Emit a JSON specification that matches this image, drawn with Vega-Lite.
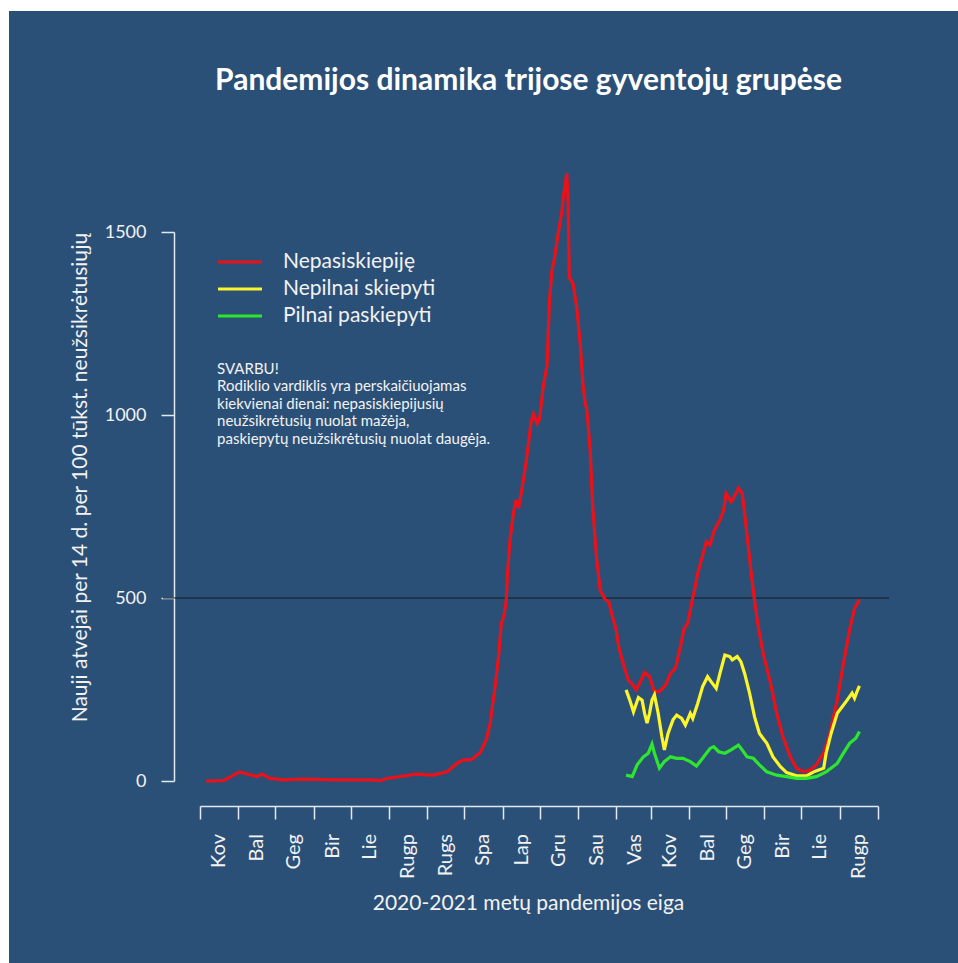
{
  "$schema": "https://vega.github.io/schema/vega-lite/v6.json",
  "width": 949,
  "height": 952,
  "autosize": {"type": "none"},
  "padding": {"left": 9, "top": 11, "right": 0, "bottom": 0},
  "background": "#ffffff",
  "config": {
    "view": {"fill": "#2b5078", "stroke": null},
    "font": "Lato",
    "axis": {"grid": false, "domainColor": "#e2e8ef", "tickColor": "#e2e8ef", "domainWidth": 1.5, "tickWidth": 1.5, "labelColor": "#f2f2f2", "titleColor": "#f2f2f2", "labelFont": "Lato", "titleFont": "Lato", "titleFontWeight": "normal"}
  },
  "title": {"text": "Pandemijos dinamika trijose gyventojų grupėse", "anchor": "middle", "frame": "group", "offset": 0, "baseline": "bottom", "dy": 115, "dx": 45, "fontSize": 30, "fontWeight": "bold", "color": "#ffffff", "font": "Lato"},
  "layer": [
    {
      "data": {"values": [{"line": "500"}]},
      "mark": {"type": "rule", "stroke": "#101820", "strokeWidth": 1.2},
      "encoding": {
        "x": {"datum": {"year": 2020, "month": 1, "date": 31, "utc": true}, "type": "temporal"},
        "x2": {"datum": {"year": 2021, "month": 9, "date": 10, "utc": true}},
        "y": {"datum": 500, "type": "quantitative"}
      }
    },
    {
      "data": {"values": [
        {"date": "2020-03-06", "group": "Nepasiskiepiję", "value": 0},
        {"date": "2020-03-20", "group": "Nepasiskiepiję", "value": 1},
        {"date": "2020-04-02", "group": "Nepasiskiepiję", "value": 25},
        {"date": "2020-04-16", "group": "Nepasiskiepiję", "value": 12},
        {"date": "2020-04-20", "group": "Nepasiskiepiję", "value": 19},
        {"date": "2020-04-27", "group": "Nepasiskiepiję", "value": 7},
        {"date": "2020-05-07", "group": "Nepasiskiepiję", "value": 3},
        {"date": "2020-05-24", "group": "Nepasiskiepiję", "value": 5},
        {"date": "2020-06-20", "group": "Nepasiskiepiję", "value": 3},
        {"date": "2020-07-17", "group": "Nepasiskiepiję", "value": 3},
        {"date": "2020-07-25", "group": "Nepasiskiepiję", "value": 1},
        {"date": "2020-07-30", "group": "Nepasiskiepiję", "value": 7},
        {"date": "2020-08-23", "group": "Nepasiskiepiję", "value": 19},
        {"date": "2020-09-06", "group": "Nepasiskiepiję", "value": 16},
        {"date": "2020-09-17", "group": "Nepasiskiepiję", "value": 25},
        {"date": "2020-09-25", "group": "Nepasiskiepiję", "value": 48},
        {"date": "2020-09-30", "group": "Nepasiskiepiję", "value": 57},
        {"date": "2020-10-07", "group": "Nepasiskiepiję", "value": 59},
        {"date": "2020-10-14", "group": "Nepasiskiepiję", "value": 78},
        {"date": "2020-10-19", "group": "Nepasiskiepiję", "value": 115},
        {"date": "2020-10-22", "group": "Nepasiskiepiję", "value": 158},
        {"date": "2020-10-24", "group": "Nepasiskiepiję", "value": 210},
        {"date": "2020-10-26", "group": "Nepasiskiepiję", "value": 258},
        {"date": "2020-10-29", "group": "Nepasiskiepiję", "value": 349},
        {"date": "2020-10-31", "group": "Nepasiskiepiję", "value": 431},
        {"date": "2020-11-02", "group": "Nepasiskiepiję", "value": 449},
        {"date": "2020-11-04", "group": "Nepasiskiepiję", "value": 494},
        {"date": "2020-11-05", "group": "Nepasiskiepiję", "value": 567},
        {"date": "2020-11-07", "group": "Nepasiskiepiję", "value": 658},
        {"date": "2020-11-10", "group": "Nepasiskiepiję", "value": 736},
        {"date": "2020-11-12", "group": "Nepasiskiepiję", "value": 768},
        {"date": "2020-11-14", "group": "Nepasiskiepiję", "value": 745},
        {"date": "2020-11-17", "group": "Nepasiskiepiję", "value": 804},
        {"date": "2020-11-20", "group": "Nepasiskiepiję", "value": 870},
        {"date": "2020-11-22", "group": "Nepasiskiepiję", "value": 923},
        {"date": "2020-11-24", "group": "Nepasiskiepiję", "value": 980},
        {"date": "2020-11-26", "group": "Nepasiskiepiję", "value": 1003},
        {"date": "2020-11-29", "group": "Nepasiskiepiję", "value": 977},
        {"date": "2020-12-01", "group": "Nepasiskiepiję", "value": 990},
        {"date": "2020-12-04", "group": "Nepasiskiepiję", "value": 1080},
        {"date": "2020-12-07", "group": "Nepasiskiepiję", "value": 1135},
        {"date": "2020-12-09", "group": "Nepasiskiepiję", "value": 1314},
        {"date": "2020-12-11", "group": "Nepasiskiepiję", "value": 1395},
        {"date": "2020-12-13", "group": "Nepasiskiepiję", "value": 1428},
        {"date": "2020-12-16", "group": "Nepasiskiepiję", "value": 1496},
        {"date": "2020-12-19", "group": "Nepasiskiepiję", "value": 1555},
        {"date": "2020-12-20", "group": "Nepasiskiepiję", "value": 1590},
        {"date": "2020-12-23", "group": "Nepasiskiepiję", "value": 1660},
        {"date": "2020-12-24", "group": "Nepasiskiepiję", "value": 1587},
        {"date": "2020-12-25", "group": "Nepasiskiepiję", "value": 1375},
        {"date": "2020-12-28", "group": "Nepasiskiepiję", "value": 1360},
        {"date": "2020-12-31", "group": "Nepasiskiepiję", "value": 1296},
        {"date": "2021-01-03", "group": "Nepasiskiepiję", "value": 1190},
        {"date": "2021-01-05", "group": "Nepasiskiepiję", "value": 1086},
        {"date": "2021-01-07", "group": "Nepasiskiepiję", "value": 1030},
        {"date": "2021-01-08", "group": "Nepasiskiepiję", "value": 1020},
        {"date": "2021-01-09", "group": "Nepasiskiepiję", "value": 985},
        {"date": "2021-01-11", "group": "Nepasiskiepiję", "value": 900},
        {"date": "2021-01-13", "group": "Nepasiskiepiję", "value": 749},
        {"date": "2021-01-16", "group": "Nepasiskiepiję", "value": 613},
        {"date": "2021-01-19", "group": "Nepasiskiepiję", "value": 522},
        {"date": "2021-01-23", "group": "Nepasiskiepiję", "value": 496},
        {"date": "2021-01-26", "group": "Nepasiskiepiję", "value": 490},
        {"date": "2021-01-29", "group": "Nepasiskiepiję", "value": 449},
        {"date": "2021-02-01", "group": "Nepasiskiepiję", "value": 413},
        {"date": "2021-02-03", "group": "Nepasiskiepiję", "value": 367},
        {"date": "2021-02-07", "group": "Nepasiskiepiję", "value": 317},
        {"date": "2021-02-11", "group": "Nepasiskiepiję", "value": 274},
        {"date": "2021-02-14", "group": "Nepasiskiepiję", "value": 265},
        {"date": "2021-02-17", "group": "Nepasiskiepiję", "value": 249},
        {"date": "2021-02-20", "group": "Nepasiskiepiję", "value": 267},
        {"date": "2021-02-24", "group": "Nepasiskiepiję", "value": 297},
        {"date": "2021-02-28", "group": "Nepasiskiepiję", "value": 285},
        {"date": "2021-03-04", "group": "Nepasiskiepiję", "value": 244},
        {"date": "2021-03-08", "group": "Nepasiskiepiję", "value": 244},
        {"date": "2021-03-13", "group": "Nepasiskiepiję", "value": 262},
        {"date": "2021-03-17", "group": "Nepasiskiepiję", "value": 294},
        {"date": "2021-03-21", "group": "Nepasiskiepiję", "value": 308},
        {"date": "2021-03-25", "group": "Nepasiskiepiję", "value": 367},
        {"date": "2021-03-28", "group": "Nepasiskiepiję", "value": 417},
        {"date": "2021-03-31", "group": "Nepasiskiepiję", "value": 431},
        {"date": "2021-04-03", "group": "Nepasiskiepiję", "value": 485},
        {"date": "2021-04-06", "group": "Nepasiskiepiję", "value": 531},
        {"date": "2021-04-08", "group": "Nepasiskiepiję", "value": 567},
        {"date": "2021-04-11", "group": "Nepasiskiepiję", "value": 604},
        {"date": "2021-04-15", "group": "Nepasiskiepiję", "value": 654},
        {"date": "2021-04-18", "group": "Nepasiskiepiję", "value": 645},
        {"date": "2021-04-21", "group": "Nepasiskiepiję", "value": 681},
        {"date": "2021-04-23", "group": "Nepasiskiepiję", "value": 695},
        {"date": "2021-04-26", "group": "Nepasiskiepiję", "value": 713},
        {"date": "2021-04-29", "group": "Nepasiskiepiję", "value": 740},
        {"date": "2021-05-01", "group": "Nepasiskiepiję", "value": 786},
        {"date": "2021-05-05", "group": "Nepasiskiepiję", "value": 763},
        {"date": "2021-05-07", "group": "Nepasiskiepiję", "value": 772},
        {"date": "2021-05-11", "group": "Nepasiskiepiję", "value": 800},
        {"date": "2021-05-14", "group": "Nepasiskiepiję", "value": 786},
        {"date": "2021-05-16", "group": "Nepasiskiepiję", "value": 731},
        {"date": "2021-05-19", "group": "Nepasiskiepiję", "value": 640},
        {"date": "2021-05-22", "group": "Nepasiskiepiję", "value": 549},
        {"date": "2021-05-24", "group": "Nepasiskiepiję", "value": 494},
        {"date": "2021-05-27", "group": "Nepasiskiepiję", "value": 422},
        {"date": "2021-05-31", "group": "Nepasiskiepiję", "value": 349},
        {"date": "2021-06-06", "group": "Nepasiskiepiję", "value": 267},
        {"date": "2021-06-11", "group": "Nepasiskiepiję", "value": 185},
        {"date": "2021-06-16", "group": "Nepasiskiepiję", "value": 121},
        {"date": "2021-06-22", "group": "Nepasiskiepiję", "value": 66},
        {"date": "2021-06-27", "group": "Nepasiskiepiję", "value": 35},
        {"date": "2021-07-03", "group": "Nepasiskiepiję", "value": 25},
        {"date": "2021-07-08", "group": "Nepasiskiepiję", "value": 30},
        {"date": "2021-07-13", "group": "Nepasiskiepiję", "value": 44},
        {"date": "2021-07-19", "group": "Nepasiskiepiję", "value": 76},
        {"date": "2021-07-24", "group": "Nepasiskiepiję", "value": 130},
        {"date": "2021-07-30", "group": "Nepasiskiepiję", "value": 221},
        {"date": "2021-08-04", "group": "Nepasiskiepiję", "value": 322},
        {"date": "2021-08-09", "group": "Nepasiskiepiję", "value": 413},
        {"date": "2021-08-13", "group": "Nepasiskiepiję", "value": 472},
        {"date": "2021-08-17", "group": "Nepasiskiepiję", "value": 496},
        {"date": "2021-02-09", "group": "Nepilnai skiepyti", "value": 249},
        {"date": "2021-02-12", "group": "Nepilnai skiepyti", "value": 221},
        {"date": "2021-02-15", "group": "Nepilnai skiepyti", "value": 189},
        {"date": "2021-02-19", "group": "Nepilnai skiepyti", "value": 228},
        {"date": "2021-02-22", "group": "Nepilnai skiepyti", "value": 221},
        {"date": "2021-02-24", "group": "Nepilnai skiepyti", "value": 185},
        {"date": "2021-02-26", "group": "Nepilnai skiepyti", "value": 158},
        {"date": "2021-02-28", "group": "Nepilnai skiepyti", "value": 185},
        {"date": "2021-03-02", "group": "Nepilnai skiepyti", "value": 221},
        {"date": "2021-03-04", "group": "Nepilnai skiepyti", "value": 235},
        {"date": "2021-03-07", "group": "Nepilnai skiepyti", "value": 185},
        {"date": "2021-03-10", "group": "Nepilnai skiepyti", "value": 121},
        {"date": "2021-03-12", "group": "Nepilnai skiepyti", "value": 85},
        {"date": "2021-03-15", "group": "Nepilnai skiepyti", "value": 130},
        {"date": "2021-03-19", "group": "Nepilnai skiepyti", "value": 167},
        {"date": "2021-03-22", "group": "Nepilnai skiepyti", "value": 180},
        {"date": "2021-03-26", "group": "Nepilnai skiepyti", "value": 171},
        {"date": "2021-03-29", "group": "Nepilnai skiepyti", "value": 153},
        {"date": "2021-04-02", "group": "Nepilnai skiepyti", "value": 185},
        {"date": "2021-04-04", "group": "Nepilnai skiepyti", "value": 171},
        {"date": "2021-04-08", "group": "Nepilnai skiepyti", "value": 212},
        {"date": "2021-04-12", "group": "Nepilnai skiepyti", "value": 258},
        {"date": "2021-04-16", "group": "Nepilnai skiepyti", "value": 285},
        {"date": "2021-04-19", "group": "Nepilnai skiepyti", "value": 271},
        {"date": "2021-04-23", "group": "Nepilnai skiepyti", "value": 253},
        {"date": "2021-04-26", "group": "Nepilnai skiepyti", "value": 294},
        {"date": "2021-04-30", "group": "Nepilnai skiepyti", "value": 344},
        {"date": "2021-05-04", "group": "Nepilnai skiepyti", "value": 340},
        {"date": "2021-05-06", "group": "Nepilnai skiepyti", "value": 331},
        {"date": "2021-05-10", "group": "Nepilnai skiepyti", "value": 340},
        {"date": "2021-05-13", "group": "Nepilnai skiepyti", "value": 326},
        {"date": "2021-05-16", "group": "Nepilnai skiepyti", "value": 294},
        {"date": "2021-05-20", "group": "Nepilnai skiepyti", "value": 240},
        {"date": "2021-05-24", "group": "Nepilnai skiepyti", "value": 176},
        {"date": "2021-05-28", "group": "Nepilnai skiepyti", "value": 130},
        {"date": "2021-06-03", "group": "Nepilnai skiepyti", "value": 103},
        {"date": "2021-06-08", "group": "Nepilnai skiepyti", "value": 66},
        {"date": "2021-06-14", "group": "Nepilnai skiepyti", "value": 39},
        {"date": "2021-06-19", "group": "Nepilnai skiepyti", "value": 23},
        {"date": "2021-06-27", "group": "Nepilnai skiepyti", "value": 14},
        {"date": "2021-07-05", "group": "Nepilnai skiepyti", "value": 14},
        {"date": "2021-07-11", "group": "Nepilnai skiepyti", "value": 25},
        {"date": "2021-07-15", "group": "Nepilnai skiepyti", "value": 30},
        {"date": "2021-07-19", "group": "Nepilnai skiepyti", "value": 35},
        {"date": "2021-07-21", "group": "Nepilnai skiepyti", "value": 76},
        {"date": "2021-07-25", "group": "Nepilnai skiepyti", "value": 130},
        {"date": "2021-07-30", "group": "Nepilnai skiepyti", "value": 185},
        {"date": "2021-08-03", "group": "Nepilnai skiepyti", "value": 203},
        {"date": "2021-08-07", "group": "Nepilnai skiepyti", "value": 221},
        {"date": "2021-08-11", "group": "Nepilnai skiepyti", "value": 240},
        {"date": "2021-08-13", "group": "Nepilnai skiepyti", "value": 226},
        {"date": "2021-08-15", "group": "Nepilnai skiepyti", "value": 244},
        {"date": "2021-08-17", "group": "Nepilnai skiepyti", "value": 260},
        {"date": "2021-02-09", "group": "Pilnai paskiepyti", "value": 16},
        {"date": "2021-02-14", "group": "Pilnai paskiepyti", "value": 12},
        {"date": "2021-02-18", "group": "Pilnai paskiepyti", "value": 44},
        {"date": "2021-02-23", "group": "Pilnai paskiepyti", "value": 66},
        {"date": "2021-02-27", "group": "Pilnai paskiepyti", "value": 76},
        {"date": "2021-03-02", "group": "Pilnai paskiepyti", "value": 101},
        {"date": "2021-03-04", "group": "Pilnai paskiepyti", "value": 76},
        {"date": "2021-03-08", "group": "Pilnai paskiepyti", "value": 35},
        {"date": "2021-03-12", "group": "Pilnai paskiepyti", "value": 53},
        {"date": "2021-03-17", "group": "Pilnai paskiepyti", "value": 66},
        {"date": "2021-03-22", "group": "Pilnai paskiepyti", "value": 62},
        {"date": "2021-03-27", "group": "Pilnai paskiepyti", "value": 62},
        {"date": "2021-04-02", "group": "Pilnai paskiepyti", "value": 53},
        {"date": "2021-04-07", "group": "Pilnai paskiepyti", "value": 41},
        {"date": "2021-04-12", "group": "Pilnai paskiepyti", "value": 62},
        {"date": "2021-04-18", "group": "Pilnai paskiepyti", "value": 89},
        {"date": "2021-04-21", "group": "Pilnai paskiepyti", "value": 94},
        {"date": "2021-04-25", "group": "Pilnai paskiepyti", "value": 80},
        {"date": "2021-04-30", "group": "Pilnai paskiepyti", "value": 76},
        {"date": "2021-05-05", "group": "Pilnai paskiepyti", "value": 85},
        {"date": "2021-05-11", "group": "Pilnai paskiepyti", "value": 98},
        {"date": "2021-05-14", "group": "Pilnai paskiepyti", "value": 85},
        {"date": "2021-05-18", "group": "Pilnai paskiepyti", "value": 66},
        {"date": "2021-05-23", "group": "Pilnai paskiepyti", "value": 62},
        {"date": "2021-05-28", "group": "Pilnai paskiepyti", "value": 44},
        {"date": "2021-06-03", "group": "Pilnai paskiepyti", "value": 25},
        {"date": "2021-06-11", "group": "Pilnai paskiepyti", "value": 16},
        {"date": "2021-06-19", "group": "Pilnai paskiepyti", "value": 12},
        {"date": "2021-06-27", "group": "Pilnai paskiepyti", "value": 7},
        {"date": "2021-07-05", "group": "Pilnai paskiepyti", "value": 7},
        {"date": "2021-07-13", "group": "Pilnai paskiepyti", "value": 12},
        {"date": "2021-07-21", "group": "Pilnai paskiepyti", "value": 25},
        {"date": "2021-07-30", "group": "Pilnai paskiepyti", "value": 48},
        {"date": "2021-08-04", "group": "Pilnai paskiepyti", "value": 76},
        {"date": "2021-08-09", "group": "Pilnai paskiepyti", "value": 103},
        {"date": "2021-08-14", "group": "Pilnai paskiepyti", "value": 117},
        {"date": "2021-08-17", "group": "Pilnai paskiepyti", "value": 135}
      ]},
      "mark": {"type": "line", "strokeWidth": 3.2, "clip": false},
      "encoding": {
        "x": {"field": "date", "type": "temporal",
          "scale": {"type": "utc", "domain": [{"year": 2020, "month": 3, "date": 1, "utc": true}, {"year": 2021, "month": 9, "date": 1, "utc": true}], "range": [191, 869], "nice": false},
          "axis": {
            "values": [
              {"year": 2020, "month": 3, "date": 1, "utc": true}, {"year": 2020, "month": 4, "date": 1, "utc": true}, {"year": 2020, "month": 5, "date": 1, "utc": true}, {"year": 2020, "month": 6, "date": 1, "utc": true}, {"year": 2020, "month": 7, "date": 1, "utc": true}, {"year": 2020, "month": 8, "date": 1, "utc": true}, {"year": 2020, "month": 9, "date": 1, "utc": true}, {"year": 2020, "month": 10, "date": 1, "utc": true}, {"year": 2020, "month": 11, "date": 1, "utc": true}, {"year": 2020, "month": 12, "date": 1, "utc": true},
              {"year": 2021, "month": 1, "date": 1, "utc": true}, {"year": 2021, "month": 2, "date": 1, "utc": true}, {"year": 2021, "month": 3, "date": 1, "utc": true}, {"year": 2021, "month": 4, "date": 1, "utc": true}, {"year": 2021, "month": 5, "date": 1, "utc": true}, {"year": 2021, "month": 6, "date": 1, "utc": true}, {"year": 2021, "month": 7, "date": 1, "utc": true}, {"year": 2021, "month": 8, "date": 1, "utc": true}, {"year": 2021, "month": 9, "date": 1, "utc": true}
            ],
            "labelExpr": "(utcyear(datum.value) == 2021 && utcmonth(datum.value) == 8) ? '' : ['Sau','Vas','Kov','Bal','Geg','Bir','Lie','Rugp','Rugs','Spa','Lap','Gru'][utcmonth(datum.value)]",
            "offset": -157, "tickSize": 13, "labelPadding": 14.5, "labelAngle": 270, "labelAlign": "right", "labelBaseline": "middle", "labelOffset": 18.5, "labelFontSize": 20, "labelFlush": false, "labelOverlap": false, "labelBound": false,
            "title": "2020-2021 metų pandemijos eiga", "titleFontSize": 21, "titleX": 519, "titleY": 97, "titleAlign": "center", "titleBaseline": "middle", "titleAngle": 0
          }
        },
        "y": {"field": "value", "type": "quantitative",
          "scale": {"domain": [0, 1500], "range": [770, 221], "nice": false, "zero": false},
          "axis": {"values": [0, 500, 1000, 1500], "format": "d", "offset": -165, "tickSize": 13, "labelPadding": 15, "labelFontSize": 18, "labelAngle": 0, "labelBaseline": "middle", "labelAlign": "right", "labelFlush": false, "labelOverlap": false, "labelBound": false,
            "title": "Nauji atvejai per 14 d. per 100 tūkst. neužsikrėtusiųjų", "titleFontSize": 21, "titleX": -94, "titleY": 466, "titleAngle": 270, "titleAlign": "center", "titleBaseline": "middle"}
        },
        "color": {"field": "group", "type": "nominal",
          "scale": {"domain": ["Nepasiskiepiję", "Nepilnai skiepyti", "Pilnai paskiepyti"], "range": ["#ec1118", "#fbf52a", "#2ee62e"]},
          "legend": {"orient": "none", "legendX": 218.5, "legendY": 238.5, "title": null, "symbolType": "M-2,0H2", "symbolSize": 484, "symbolStrokeWidth": 3, "labelFontSize": 21, "labelColor": "#f2f2f2", "labelFont": "Lato", "labelOffset": 30.5, "rowPadding": 4, "padding": 0}
        }
      }
    },
    {
      "data": {"values": [{"note": "SVARBU!"}]},
      "mark": {"type": "text", "text": ["SVARBU!", "Rodiklio vardiklis yra perskaičiuojamas", "kiekvienai dienai: nepasiskiepijusių", "neužsikrėtusių nuolat mažėja,", "paskiepytų neužsikrėtusių nuolat daugėja."], "align": "left", "baseline": "middle", "lineHeight": 17.5, "fontSize": 15, "fill": "#f2f2f2", "font": "Lato", "fontWeight": "normal"},
      "encoding": {
        "x": {"datum": {"year": 2020, "month": 3, "date": 14, "hours": 20, "utc": true}, "type": "temporal"},
        "y": {"datum": 1126, "type": "quantitative"}
      }
    }
  ]
}
